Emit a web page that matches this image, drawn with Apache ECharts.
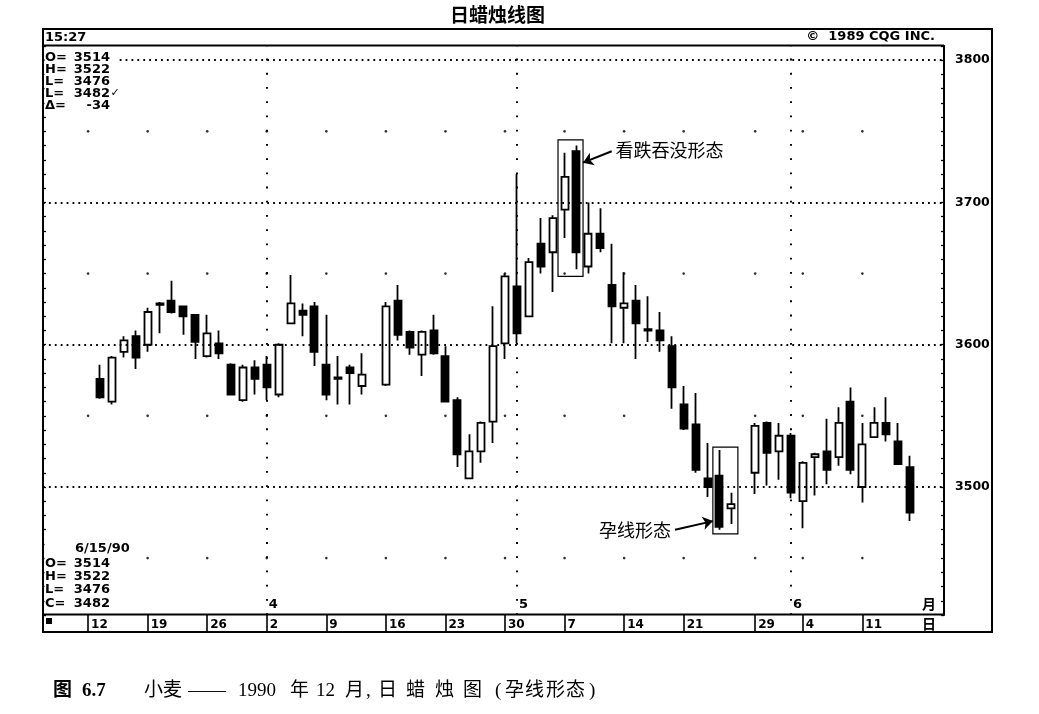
<!DOCTYPE html>
<html><head><meta charset="utf-8">
<script src="https://cdn.jsdelivr.net/npm/echarts@6/dist/echarts.min.js"></script>
<style>html,body{margin:0;padding:0;background:#fff}#c{width:1039px;height:714px}</style>
</head><body><div id="c"></div>
<script>
// ---- data (trading-day slots; null = no session) ----
const dates = ['3/12','3/13','3/14','3/15','3/16','3/19','3/20','3/21','3/22','3/23','3/26','3/27','3/28','3/29','3/30',
 '4/2','4/3','4/4','4/5','4/6','4/9','4/10','4/11','4/12','4/13','4/16','4/17','4/18','4/19','4/20',
 '4/23','4/24','4/25','4/26','4/27','4/30','5/1','5/2','5/3','5/4','5/7','5/8','5/9','5/10','5/11',
 '5/14','5/15','5/16','5/17','5/18','5/21','5/22','5/23','5/24','5/25','5/28','5/29','5/30','5/31','6/1',
 '6/4','6/5','6/6','6/7','6/8','6/11','6/12','6/13','6/14','6/15'];
const openV  = [null,3576,3560,3595,3606,3600,3628,3631,3627,3621,3592,3601,3586,3561,3584,
 3586,3565,3615,3624,3627,3586,3577,3584,3571,null,3572,3631,3609,3593,3610,
 3592,3561,3506,3525,3546,3601,3641,3620,3671,3665,3695,3736,3655,3678,3642,
 3626,3631,3611,3610,3599,3558,3544,3506,3508,3485,null,3510,3545,3525,3536,
 3490,3521,3525,3521,3560,3500,3535,3545,3532,3514];
const closeV = [null,3563,3591,3603,3591,3623,3629,3623,3620,3602,3608,3594,3565,3584,3576,
 3570,3600,3629,3621,3595,3565,3576,3580,3579,null,3627,3607,3598,3609,3594,
 3560,3523,3525,3545,3599,3648,3608,3658,3655,3689,3718,3665,3678,3668,3627,
 3629,3615,3610,3603,3570,3541,3512,3500,3472,3488,null,3543,3524,3536,3496,
 3517,3523,3512,3545,3512,3530,3545,3537,3516,3482];
const lowV   = [null,3562,3558,3591,3583,3595,3608,3622,3607,3590,3591,3590,3565,3560,3565,
 3561,3563,3615,3606,3585,3561,3558,3558,3565,null,3571,3603,3593,3578,3593,
 3560,3514,3506,3517,3531,3590,3601,3620,3650,3637,3675,3653,3650,3665,3601,
 3601,3590,3602,3595,3555,3540,3510,3493,3470,3474,null,3495,3501,3505,3492,
 3471,3494,3502,3515,3509,3489,3535,3532,3516,3476];
const highV  = [null,3586,3592,3606,3610,3626,3630,3645,3627,3621,3621,3610,3587,3586,3589,
 3592,3601,3649,3629,3630,3621,3592,3586,3594,null,3630,3642,3610,3610,3621,
 3599,3563,3537,3546,3627,3650,3720,3661,3689,3691,3735,3740,3700,3696,3671,
 3651,3642,3634,3623,3606,3571,3566,3531,3526,3496,null,3545,3546,3545,3538,
 3518,3524,3548,3556,3570,3545,3556,3563,3545,3522];
const weekStarts  = ['3/12','3/19','3/26','4/2','4/9','4/16','4/23','4/30','5/7','5/14','5/21','5/29','6/4','6/11'];
const monthStarts = ['4/2','5/1','6/1'];
const monthLabels = ['4','5','6'];
const priceLevels = [3500,3600,3700,3800];
const halfLevels  = [3450,3550,3650,3750];
const yearSuffix  = '90';
// pattern annotations: boxes around candles, arrow from label to box
const patterns = [
  {text:'看跌吞没形态', from:'5/7',  to:'5/8',  lo:3648, hi:3744, side:'right', labelAt:[43.96, 3736], tipPrice:3728},
  {text:'孕线形态',     from:'5/24', to:'5/25', lo:3467, hi:3528, side:'left',  labelAt:[49.27, 3470], tipPrice:3476}
];

// ---- build ----
const idx = d => dates.indexOf(d);
const candleData = [];
dates.forEach((d,i)=>{ if(openV[i]!=null) candleData.push([i, openV[i], closeV[i], lowV[i], highV[i]]); });
const weekIdx = weekStarts.map(idx);
const monthIdx = monthStarts.map(idx);
const dotData = [];
weekIdx.forEach(i=>halfLevels.forEach(p=>dotData.push([i,p])));

const PAD = 0.55;
const boxAreas = patterns.map(p=>[{xAxis: idx(p.from)-PAD, yAxis:p.lo},{xAxis: idx(p.to)+PAD, yAxis:p.hi}]);
const arrows = patterns.map(p=>{
  const tipX = p.side==='right' ? idx(p.to)+PAD : idx(p.from)-PAD;
  return [{name:p.text, coord:p.labelAt},{coord:[tipX, p.tipPrice]}];
});

const X_MIN = -3.785, X_MAX = 71.853;
const MONO = 'DejaVu Sans';
const CJK = 'Noto Sans CJK SC';

const n = closeV.length-1;
const lastO=openV[n], lastH=highV[n], lastL=lowV[n], lastC=closeV[n];
const delta = lastC - closeV[n-1];

const chart = echarts.init(document.getElementById('c'));

const capParts = [
 {t:'图',x:53,b:true},{t:'6.7',x:82,b:true},{t:'小麦',x:144},{t:'——',x:188},{t:'1990',x:238},
 {t:'年',x:290},{t:'12',x:316},{t:'月',x:345},{t:',',x:366},{t:'日',x:378},{t:'蜡',x:406},
 {t:'烛',x:435},{t:'图',x:463},{t:'(',x:495},{t:'孕',x:505},{t:'线',x:525},{t:'形',x:546},
 {t:'态',x:566},{t:')',x:589}
];

const graphics = [
  {type:'rect', shape:{x:43,y:29,width:949,height:603}, style:{fill:null, stroke:'#000', lineWidth:2}, z:100},
  {type:'line', shape:{x1:43,y1:45.5,x2:944,y2:45.5}, style:{stroke:'#000', lineWidth:1.8}, z:100},
  {type:'line', shape:{x1:944,y1:45.5,x2:944,y2:614.5}, style:{stroke:'#000', lineWidth:2}, z:100},
  {type:'line', shape:{x1:43,y1:614.5,x2:944,y2:614.5}, style:{stroke:'#000', lineWidth:2}, z:100},
  {type:'rect', shape:{x:46,y:618,width:6,height:6}, style:{fill:'#000'}, z:100},
  {type:'text', x:497.5, y:15, style:{text:'日蜡烛线图', font:'bold 19px "'+CJK+'"', fill:'#000', align:'center', verticalAlign:'middle'}, z:100},
  {type:'text', x:45, y:38, style:{text:'15:27', font:'bold 13px "'+MONO+'"', fill:'#000', verticalAlign:'middle'}, z:100},
  {type:'text', x:935, y:37, style:{text:'©  1989 CQG INC.', font:'bold 13px "'+MONO+'"', fill:'#000', align:'right', verticalAlign:'middle'}, z:100},
  // top-left readout
  {type:'rect', shape:{x:44.5,y:51,width:72,height:60}, style:{fill:'#fff'}, z:99},
  {type:'text', x:45, y:51.5, style:{text:'O=\nH=\nL=\nL=\nΔ=', font:'bold 13px "'+MONO+'"', lineHeight:12, fill:'#000'}, z:100},
  {type:'text', x:110, y:51.5, style:{text:[lastO,lastH,lastL,lastC,delta].join('\n'), font:'bold 13px "'+MONO+'"', lineHeight:12, fill:'#000', align:'right'}, z:100},
  {type:'text', x:110.5, y:88, style:{text:'✓', font:'bold 11px "'+MONO+'"', fill:'#000'}, z:100},
  // bottom-left readout
  {type:'rect', shape:{x:44.5,y:542,width:96,height:70}, style:{fill:'#fff'}, z:99},
  {type:'text', x:75, y:549, style:{text:dates[n]+'/'+yearSuffix, font:'bold 13px "'+MONO+'"', fill:'#000', verticalAlign:'middle'}, z:100},
  {type:'text', x:45, y:556.5, style:{text:'O=\nH=\nL=\nC=', font:'bold 13px "'+MONO+'"', lineHeight:13.4, fill:'#000'}, z:100},
  {type:'text', x:110, y:556.5, style:{text:[lastO,lastH,lastL,lastC].join('\n'), font:'bold 13px "'+MONO+'"', lineHeight:13.4, fill:'#000', align:'right'}, z:100},
  {type:'text', x:922, y:604, style:{text:'月', font:'bold 14px "'+CJK+'"', fill:'#000', verticalAlign:'middle'}, z:100},
  {type:'text', x:922, y:624, style:{text:'日', font:'bold 14px "'+CJK+'"', fill:'#000', verticalAlign:'middle'}, z:100}
];
capParts.forEach(p=>graphics.push({type:'text', x:p.x, y:691, style:{text:p.t,
  font:(p.b?'bold ':'')+'19px "Liberation Serif", "'+CJK+'"', fill:'#000', verticalAlign:'middle'}, z:100}));

chart.setOption({
  animation:false,
  backgroundColor:'#fff',
  grid:{left:43, right:95, top:46, height:569, show:false},
  xAxis:[
    {type:'value', min:X_MIN, max:X_MAX, position:'bottom', splitLine:{show:false},
     axisLine:{show:false, onZero:false},
     axisTick:{show:true, customValues:weekIdx, length:17, inside:false, lineStyle:{color:'#000', width:1.6}},
     axisLabel:{show:true, customValues:weekIdx, formatter:v=>dates[Math.round(v)].split('/')[1],
       align:'left', padding:[0,0,0,3], margin:4, fontSize:12, fontWeight:'bold', fontFamily:MONO, color:'#000'}},
    {type:'value', min:X_MIN, max:X_MAX, position:'bottom', splitLine:{show:false},
     axisLine:{show:false, onZero:false}, axisTick:{show:false},
     axisLabel:{show:true, inside:true, customValues:monthIdx,
       formatter:v=>monthLabels[monthIdx.indexOf(Math.round(v))],
       align:'left', padding:[0,0,0,2], margin:4, fontSize:13, fontWeight:'bold', fontFamily:MONO, color:'#000'}}
  ],
  yAxis:[
    {type:'value', min:3410, max:3810, interval:10, position:'left',
     axisLine:{show:true, onZero:false, lineStyle:{color:'#000', width:2}},
     axisTick:{show:true, inside:true, length:3, lineStyle:{color:'#000', width:1.3}},
     axisLabel:{show:false}, splitLine:{show:false}},
    {type:'value', min:3410, max:3810, interval:10, position:'right',
     axisLine:{show:true, onZero:false, lineStyle:{color:'#000', width:2}},
     axisTick:{show:true, inside:true, length:3, lineStyle:{color:'#000', width:1.3}},
     axisLabel:{show:true, margin:11, formatter:v=>(Math.round(v)%100===0?String(Math.round(v)):''),
       fontSize:12.5, fontWeight:'bold', fontFamily:MONO, color:'#000'},
     splitLine:{show:false}}
  ],
  series:[
    {type:'scatter', name:'grid', xAxisIndex:0, yAxisIndex:0, data:dotData, symbol:'circle', symbolSize:2.6,
     itemStyle:{color:'#000'}, silent:true, z:1,
     markLine:{silent:true, symbol:'none', label:{show:false}, animation:false,
       data: priceLevels.map(v=>({yAxis:v, lineStyle:{color:'#000', type:[1.8,4.1], width:1.8}}))
         .concat(monthIdx.map(i=>({xAxis:i, lineStyle:{color:'#000', type:[1.8,12.42], width:2}})))}},
    {type:'candlestick', name:'wheat', xAxisIndex:0, yAxisIndex:0, data:candleData,
     encode:{x:0, y:[1,2,3,4]}, barWidth:7.5, z:3,
     itemStyle:{color:'#fff', color0:'#000', borderColor:'#000', borderColor0:'#000', borderWidth:1.8},
     markArea:{silent:true, itemStyle:{color:'rgba(0,0,0,0)', borderColor:'#000', borderWidth:1.2},
       label:{show:false}, data:boxAreas},
     markLine:{silent:true, symbol:['none','arrow'], symbolSize:10,
       lineStyle:{color:'#000', type:'solid', width:2},
       label:{show:true, position:'start', distance:4, formatter:p=>p.name,
         fontSize:18, fontFamily:CJK, color:'#000'},
       data:arrows}}
  ],
  graphic: graphics
});
</script></body></html>
